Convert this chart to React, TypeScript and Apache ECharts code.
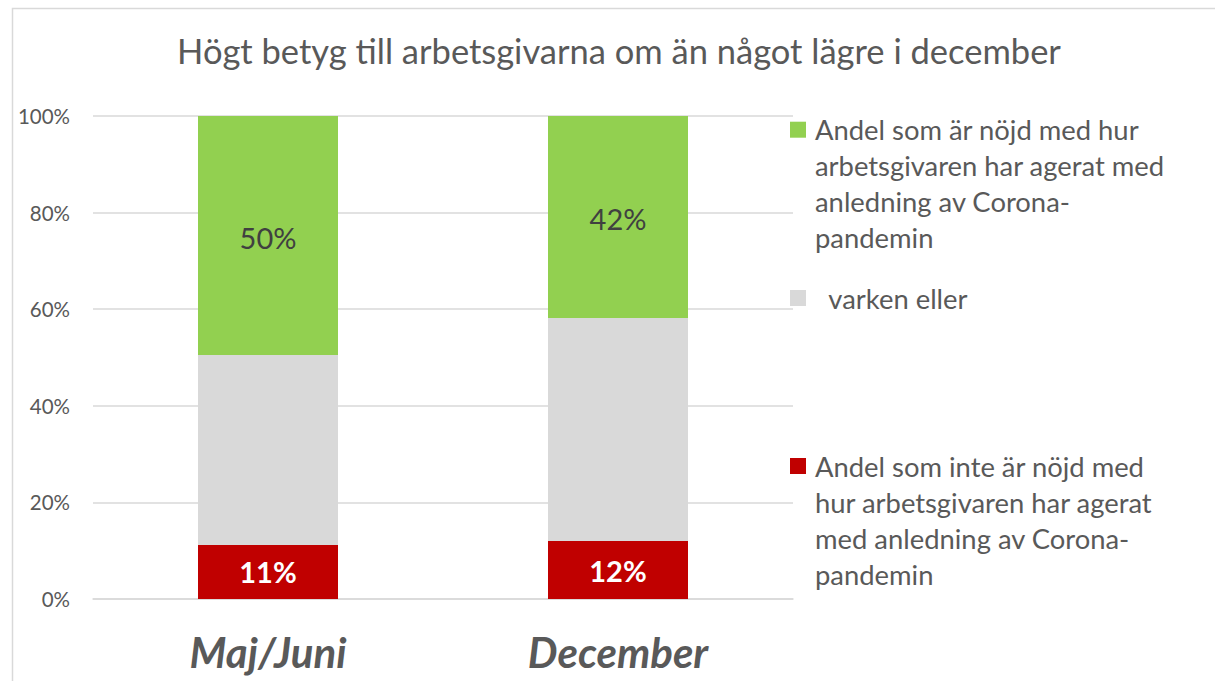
import React, { useEffect, useRef } from "react";
import * as echarts from "echarts";

const categories = ["Maj/Juni", "December"];
const seriesNames = [
  "Andel som inte är nöjd med hur arbetsgivaren har agerat med anledning av Corona-pandemin",
  "varken eller",
  "Andel som är nöjd med hur arbetsgivaren har agerat med anledning av Corona-pandemin",
];
const legendLines: string[][] = [
  ["Andel som inte är nöjd med", "hur arbetsgivaren har agerat", "med anledning av Corona-", "pandemin"],
  ["  varken eller"],
  ["Andel som är nöjd med hur", "arbetsgivaren har agerat med", "anledning av Corona-", "pandemin"],
];
const notSatisfied = [11.2, 12.0];
const neither = [39.3, 46.2];
const satisfied = [49.5, 41.8];
const yTicks = [0, 20, 40, 60, 80, 100];
const title = "Högt betyg till arbetsgivarna om än något lägre i december";

const colors = ["#C00000", "#D9D9D9", "#92D050"];
const FONT = "Lato, 'Liberation Sans', sans-serif";
const TEXT = "#595959";

export default function App() {
  const ref = useRef<HTMLDivElement>(null);
  useEffect(() => {
    document.body.style.margin = "0";
    if (!ref.current) return;
    const chart = echarts.init(ref.current, undefined, { renderer: "svg" });
    const LH = 36;
    const legendTops = [458, 290, 121.7];
    const legends = seriesNames.map((name, i) => {
      const n = legendLines[i].length;
      const pad = new Array(n - 1).fill("");
      return {
        show: true,
        left: 790,
        top: legendTops[i] - (n - 1) * LH - (LH - 16) / 2,
        orient: "vertical",
        itemWidth: 16,
        itemHeight: 16,
        padding: 0,
        selectedMode: false,
        icon: "rect",
        data: [{ name, itemStyle: { color: colors[i] } }],
        formatter: () => pad.concat(legendLines[i]).join("\n"),
        textStyle: {
          fontFamily: FONT,
          fontSize: 27.4,
          color: TEXT,
          lineHeight: LH,
          padding: [0, 0, 0, 4],
        },
      };
    });
    const dataset = [notSatisfied, neither, satisfied];
    chart.setOption({
      animation: false,
      title: {
        text: title,
        left: 614,
        textAlign: "center",
        top: 28,
        textStyle: { fontFamily: FONT, fontSize: 34.5, fontWeight: "normal", color: TEXT },
      },
      legend: legends,
      graphic: [
        {
          type: "rect",
          left: 10,
          top: 6,
          shape: { width: 1300, height: 800 },
          style: { fill: "none", stroke: "#D9D9D9", lineWidth: 1.5 },
          silent: true,
        },
      ],
      grid: { left: 93, right: 422, top: 116, bottom: 82, containLabel: false },
      xAxis: {
        type: "category",
        data: categories,
        axisLine: { lineStyle: { color: "#D9D9D9", width: 1.5 } },
        axisTick: { show: false },
        axisLabel: {
          margin: 32,
          fontFamily: FONT,
          fontSize: 42,
          fontWeight: "bold",
          fontStyle: "italic",
          color: TEXT,
        },
      },
      yAxis: {
        type: "value",
        min: yTicks[0],
        max: yTicks[yTicks.length - 1],
        interval: yTicks[1] - yTicks[0],
        axisLine: { show: false },
        axisTick: { show: false },
        splitLine: { lineStyle: { color: "#D9D9D9", width: 1.5 } },
        axisLabel: {
          formatter: "{value}%",
          margin: 23,
          fontFamily: FONT,
          fontSize: 20.5,
          color: TEXT,
        },
      },
      series: seriesNames.map((name, i) => ({
        name,
        type: "bar",
        stack: "total",
        barWidth: "40%",
        itemStyle: { color: colors[i] },
        data: dataset[i],
        label: {
          show: i !== 1,
          position: "inside",
          formatter: (p: any) => Math.round(p.value) + "%",
          fontFamily: FONT,
          fontSize: 29,
          fontWeight: i === 0 ? "bold" : "normal",
          color: i === 0 ? "#FFFFFF" : "#404040",
          offset: i === 2 ? [0, 2] : [0, 0],
        },
      })),
    });
    return () => chart.dispose();
  }, []);
  return <div ref={ref} style={{ width: 1215, height: 681 }} />;
}
